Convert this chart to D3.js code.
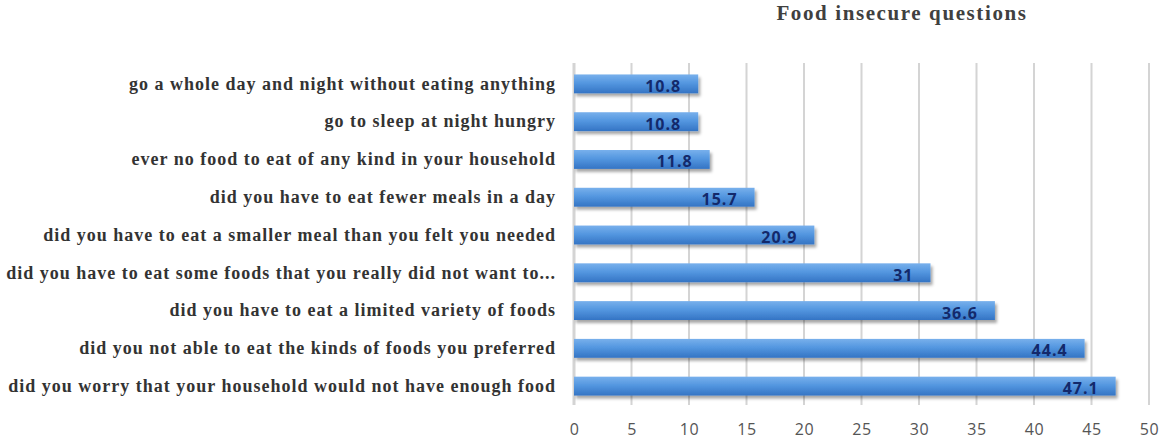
<!DOCTYPE html>
<html>
<head>
<script src="https://cdn.jsdelivr.net/npm/d3@7"></script>
  <style type="text/css">
    body {
      margin: 0;
      background: #fff;
    }
    .cat text {
      font-family: "Liberation Serif", "Times New Roman", serif;
      font-weight: bold;
      font-size: 18px;
      letter-spacing: 1px;
      fill: #333;
    }
    .xaxis text {
      font-family: "Open Sans", "Liberation Sans", sans-serif;
      font-size: 16px;
      letter-spacing: 0.5px;
      fill: #555;
    }
    .val {
      font-family: "Open Sans", "Liberation Sans", sans-serif;
      font-weight: bold;
      font-size: 16px;
      letter-spacing: 1px;
      fill: #13296b;
    }
  </style>
</head>
<body>
  <script type="text/javascript">

  var questions = [
    "go a whole day and night without eating anything",
    "go to sleep at night hungry",
    "ever no food to eat of any kind in your household",
    "did you have to eat fewer meals in a day",
    "did you have to eat a smaller meal than you felt you needed",
    "did you have to eat some foods that you really did not want to...",
    "did you have to eat a limited variety of foods",
    "did you not able to eat the kinds of foods you preferred",
    "did you worry that your household would not have enough food"
  ];
  var percents = [10.8, 10.8, 11.8, 15.7, 20.9, 31, 36.6, 44.4, 47.1];
  var xTicks = [0, 5, 10, 15, 20, 25, 30, 35, 40, 45, 50];

  var margin = {top: 65, bottom: 42, left: 574, right: 21};
  var width = 1170 - margin.left - margin.right;
  var height = 447 - margin.top - margin.bottom;

  var svg = d3.select("body").append("svg")
      .attr("width", 1170)
      .attr("height", 447);

  // gradient + shadow for the bars
  var defs = svg.append("defs");
  var grad = defs.append("linearGradient")
      .attr("id", "barGrad")
      .attr("x1", 0).attr("y1", 0).attr("x2", 0).attr("y2", 1);
  grad.append("stop").attr("offset", "0%").attr("stop-color", "#78b0ec");
  grad.append("stop").attr("offset", "45%").attr("stop-color", "#5497e0");
  grad.append("stop").attr("offset", "100%").attr("stop-color", "#3474c4");

  var shadow = defs.append("filter")
      .attr("id", "shadow")
      .attr("x", "-5%").attr("y", "-30%")
      .attr("width", "115%").attr("height", "190%");
  shadow.append("feDropShadow")
      .attr("dx", 2).attr("dy", 3)
      .attr("stdDeviation", 1.8)
      .attr("flood-color", "#000")
      .attr("flood-opacity", 0.35);

  svg.append("text")
      .attr("x", 902)
      .attr("y", 20)
      .attr("text-anchor", "middle")
      .style("font-family", "\"Liberation Serif\", \"Times New Roman\", serif")
      .style("font-weight", "bold")
      .style("font-size", "21px")
      .style("letter-spacing", "1.6px")
      .style("fill", "#404040")
      .text("Food insecure questions");

  var g = svg.append("g")
      .attr("transform", "translate(" + margin.left + "," + margin.top + ")");

  var x = d3.scaleLinear()
      .domain([0, 50])
      .range([0, width]);

  var y = d3.scaleBand()
      .domain(questions)
      .range([0, height])
      .paddingInner(0.5)
      .paddingOuter(0.25);

  // vertical gridlines
  g.selectAll(".grid")
      .data(xTicks)
    .enter().append("line")
      .attr("class", "grid")
      .attr("x1", function(d) { return x(d); })
      .attr("x2", function(d) { return x(d); })
      .attr("y1", -2)
      .attr("y2", height)
      .attr("stroke", "#d4d4d4")
      .attr("stroke-width", function(d) { return d === 0 ? 3 : 2; });

  // x axis labels
  var xAxis = g.append("g")
      .attr("class", "xaxis")
      .attr("transform", "translate(0," + height + ")")
      .call(d3.axisBottom(x).tickValues(xTicks).tickSize(0).tickPadding(19));
  xAxis.select(".domain").remove();

  // category labels
  var yAxis = g.append("g")
      .attr("class", "cat")
      .call(d3.axisLeft(y).tickSize(0).tickPadding(18));
  yAxis.select(".domain").remove();

  // bars
  g.selectAll(".bar")
      .data(percents)
    .enter().append("rect")
      .attr("class", "bar")
      .attr("x", 0)
      .attr("y", function(d, i) { return y(questions[i]); })
      .attr("width", function(d) { return x(d); })
      .attr("height", y.bandwidth())
      .attr("fill", "url(#barGrad)")
      .attr("filter", "url(#shadow)");

  // value labels
  g.selectAll(".val")
      .data(percents)
    .enter().append("text")
      .attr("class", "val")
      .attr("x", function(d) { return x(d) - 17; })
      .attr("y", function(d, i) { return y(questions[i]) + y.bandwidth() / 2; })
      .attr("dy", "0.5em")
      .attr("text-anchor", "end")
      .text(function(d) { return d; });

  </script>
</body>
</html>
